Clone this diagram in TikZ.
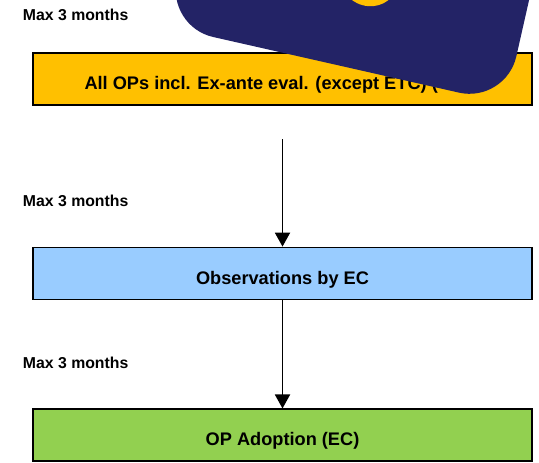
\documentclass[tikz,border=0pt]{standalone}
\usepackage{fontspec}
\setmainfont{Liberation Sans}
\usetikzlibrary{arrows.meta,positioning}

\definecolor{opyellow}{HTML}{FFC000}
\definecolor{obsblue}{HTML}{99CCFF}
\definecolor{adoptgreen}{HTML}{92D050}
\definecolor{bannernavy}{RGB}{35,35,102}

\begin{document}
\begin{tikzpicture}[
  x=0.75pt, y=0.75pt,
  every node/.style={font=\bfseries},
  box/.style={draw, line width=1.4pt, minimum width=374.25pt, minimum height=39pt, inner sep=0pt, text height=15.75pt, text depth=0pt, font=\fontsize{13.65}{16}\selectfont\bfseries},
  months/.style={anchor=base west, inner sep=0pt, font=\fontsize{11.85}{14}\selectfont\bfseries},
  arrow/.style={-{Triangle[width=11.25pt,length=10.5pt]}, line width=1.4pt}
]
\useasboundingbox (0,0) rectangle (539,-462);
\clip (0,0) rectangle (539,-462);

% ---------- Steps ----------
\node[box, fill=opyellow] (allops) at (282.5,-79) {All OPs incl. Ex-ante eval. (except ETC) (\hspace*{32pt}};
\node[box, fill=obsblue, below=105.5pt of allops] (obs) {Observations by EC};
\node[box, fill=adoptgreen, below=81pt of obs] (adopt) {OP Adoption (EC)};

% ---------- Arrows ----------
\coordinate (gap) at (282.5,-139);
\draw[arrow] (gap) -- (obs);
\draw[arrow] (obs) -- (adopt);

% ---------- Time limits ----------
\node[months] (lim1) at (22.7,-20.7) {Max 3 months};
\node[months] (lim2) at (22.7,-206.7) {Max 3 months};
\node[months] (lim3) at (22.7,-368) {Max 3 months};

% ---------- Banner covering the top ----------
\node[fill=bannernavy, rounded corners=36pt, rotate=-12.75, anchor=south west, minimum width=261pt, minimum height=225pt, inner sep=0pt] (banner) at (166,-26.6) {};
\fill[opyellow, rotate around={-15:(369,19)}] (369,19) ellipse (21pt and 18.75pt);
\end{tikzpicture}
\end{document}
